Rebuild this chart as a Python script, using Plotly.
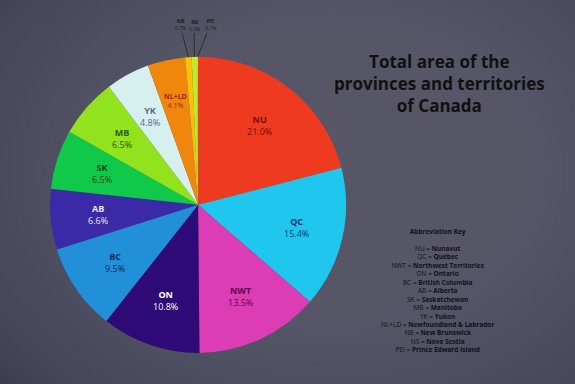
import math
import plotly.graph_objects as go

labels = ["NU", "QC", "NWT", "ON", "BC", "AB", "SK", "MB", "YK", "NL+LD", "NB", "NS", "PEI"]
values = [21.0, 15.4, 13.5, 10.8, 9.5, 6.6, 6.5, 6.5, 4.8, 4.1, 0.7, 0.6, 0.1]
names = ["Nunavut", "Québec", "Northwest Territories", "Ontario", "British Columbia",
         "Alberta", "Saskatchewan", "Manitoba", "Yukon", "Newfoundland &amp; Labrador",
         "New Brunswick", "Nova Scotia", "Prince Edward Island"]
colors = ["#ee3a1f", "#1fc6ee", "#dc3cb4", "#2f0b78", "#2190d8", "#3b2aa8", "#10c84a",
          "#92e21e", "#d6f0f0", "#f0870d", "#f8c20a", "#c8e62a", "#e8e840"]
text_colors = ["#7a0a0a", "#14346a", "#5a0848", "#ffffff", "#0e2a5a", "#e6e6f6", "#0a4a1a",
               "#2a5a0a", "#5a6a84", "#a01e00", "#1a1a1a", "#1a1a1a", "#1a1a1a"]
small = ["NB", "NS", "PEI"]

W, H = 575, 384
dom_x = [0.087, 0.602]
dom_y = [0.081, 0.852]

fig = go.Figure(go.Pie(
    labels=labels,
    values=values,
    sort=False,
    direction="clockwise",
    rotation=0,
    marker=dict(colors=colors, line=dict(width=0)),
    textinfo="none",
    showlegend=False,
    hoverinfo="label+value",
    domain=dict(x=dom_x, y=dom_y),
))

# chalkboard-style vignette background (many faint layers for a smooth falloff)
n_layers = 30
for i in range(n_layers):
    s = 1.05 - i * 0.025
    fig.add_shape(
        type="circle", xref="paper", yref="paper", layer="below",
        x0=0.58 - s * 0.8, x1=0.58 + s * 0.8, y0=0.55 - s * 0.9, y1=0.55 + s * 0.9,
        fillcolor="#65677a", opacity=0.06, line=dict(width=0),
    )

# slice labels, placed at each slice's mid-angle
total = sum(values)
cx = (dom_x[0] + dom_x[1]) / 2 * W
cy = (dom_y[0] + dom_y[1]) / 2 * H
r = min((dom_x[1] - dom_x[0]) * W, (dom_y[1] - dom_y[0]) * H) / 2
label_px = {"NB": -18, "NS": -4, "PEI": 12}
cum = 0.0
for lab, v, tc in zip(labels, values, text_colors):
    th = 2 * math.pi * (cum + v / 2) / total
    if lab in small:
        rx = cx + r * math.sin(th)
        ry = cy + r * math.cos(th)
        fig.add_annotation(
            x=rx / W, y=ry / H, xref="paper", yref="paper",
            text=f"<b>{lab}</b><br>{v:.1f}%",
            showarrow=True, arrowhead=0, arrowwidth=0.8, arrowcolor="#222222",
            ax=(cx + label_px[lab]) - rx, ay=25 - (H - ry),
            standoff=0, startstandoff=0,
            font=dict(family="Open Sans", size=5, color=tc),
            align="center",
        )
    else:
        rl = (0.72 if v < 4.5 else 0.68) * r
        fig.add_annotation(
            x=(cx + rl * math.sin(th)) / W, y=(cy + rl * math.cos(th)) / H,
            xref="paper", yref="paper", xanchor="center", yanchor="middle",
            text=f"<b>{lab}</b><br>{v:.1f}%",
            showarrow=False, align="center",
            font=dict(family="Open Sans", size=7 if v < 4.5 else 9, color=tc),
        )
    cum += v

key_lines = ["<b>Abbreviation Key</b>", ""] + [f"{a} = <b>{n}</b>" for a, n in zip(labels, names)]

fig.add_annotation(
    x=0.765, y=0.875, xref="paper", yref="paper", xanchor="center", yanchor="top",
    text="<b>Total area of the<br>provinces and territories<br>of Canada</b>",
    showarrow=False, align="center",
    font=dict(family="Open Sans", size=17, color="#111111"),
)
fig.add_annotation(
    x=0.76, y=0.415, xref="paper", yref="paper", xanchor="center", yanchor="top",
    text="<br>".join(key_lines),
    showarrow=False, align="center",
    font=dict(family="Open Sans", size=6.5, color="#101018"),
)

fig.update_layout(
    width=W, height=H,
    margin=dict(l=0, r=0, t=0, b=0),
    paper_bgcolor="#323446",
    plot_bgcolor="#323446",
)

fig.write_html("out.html", config={"displayModeBar": False},
               post_script="document.body.style.margin='0';")
